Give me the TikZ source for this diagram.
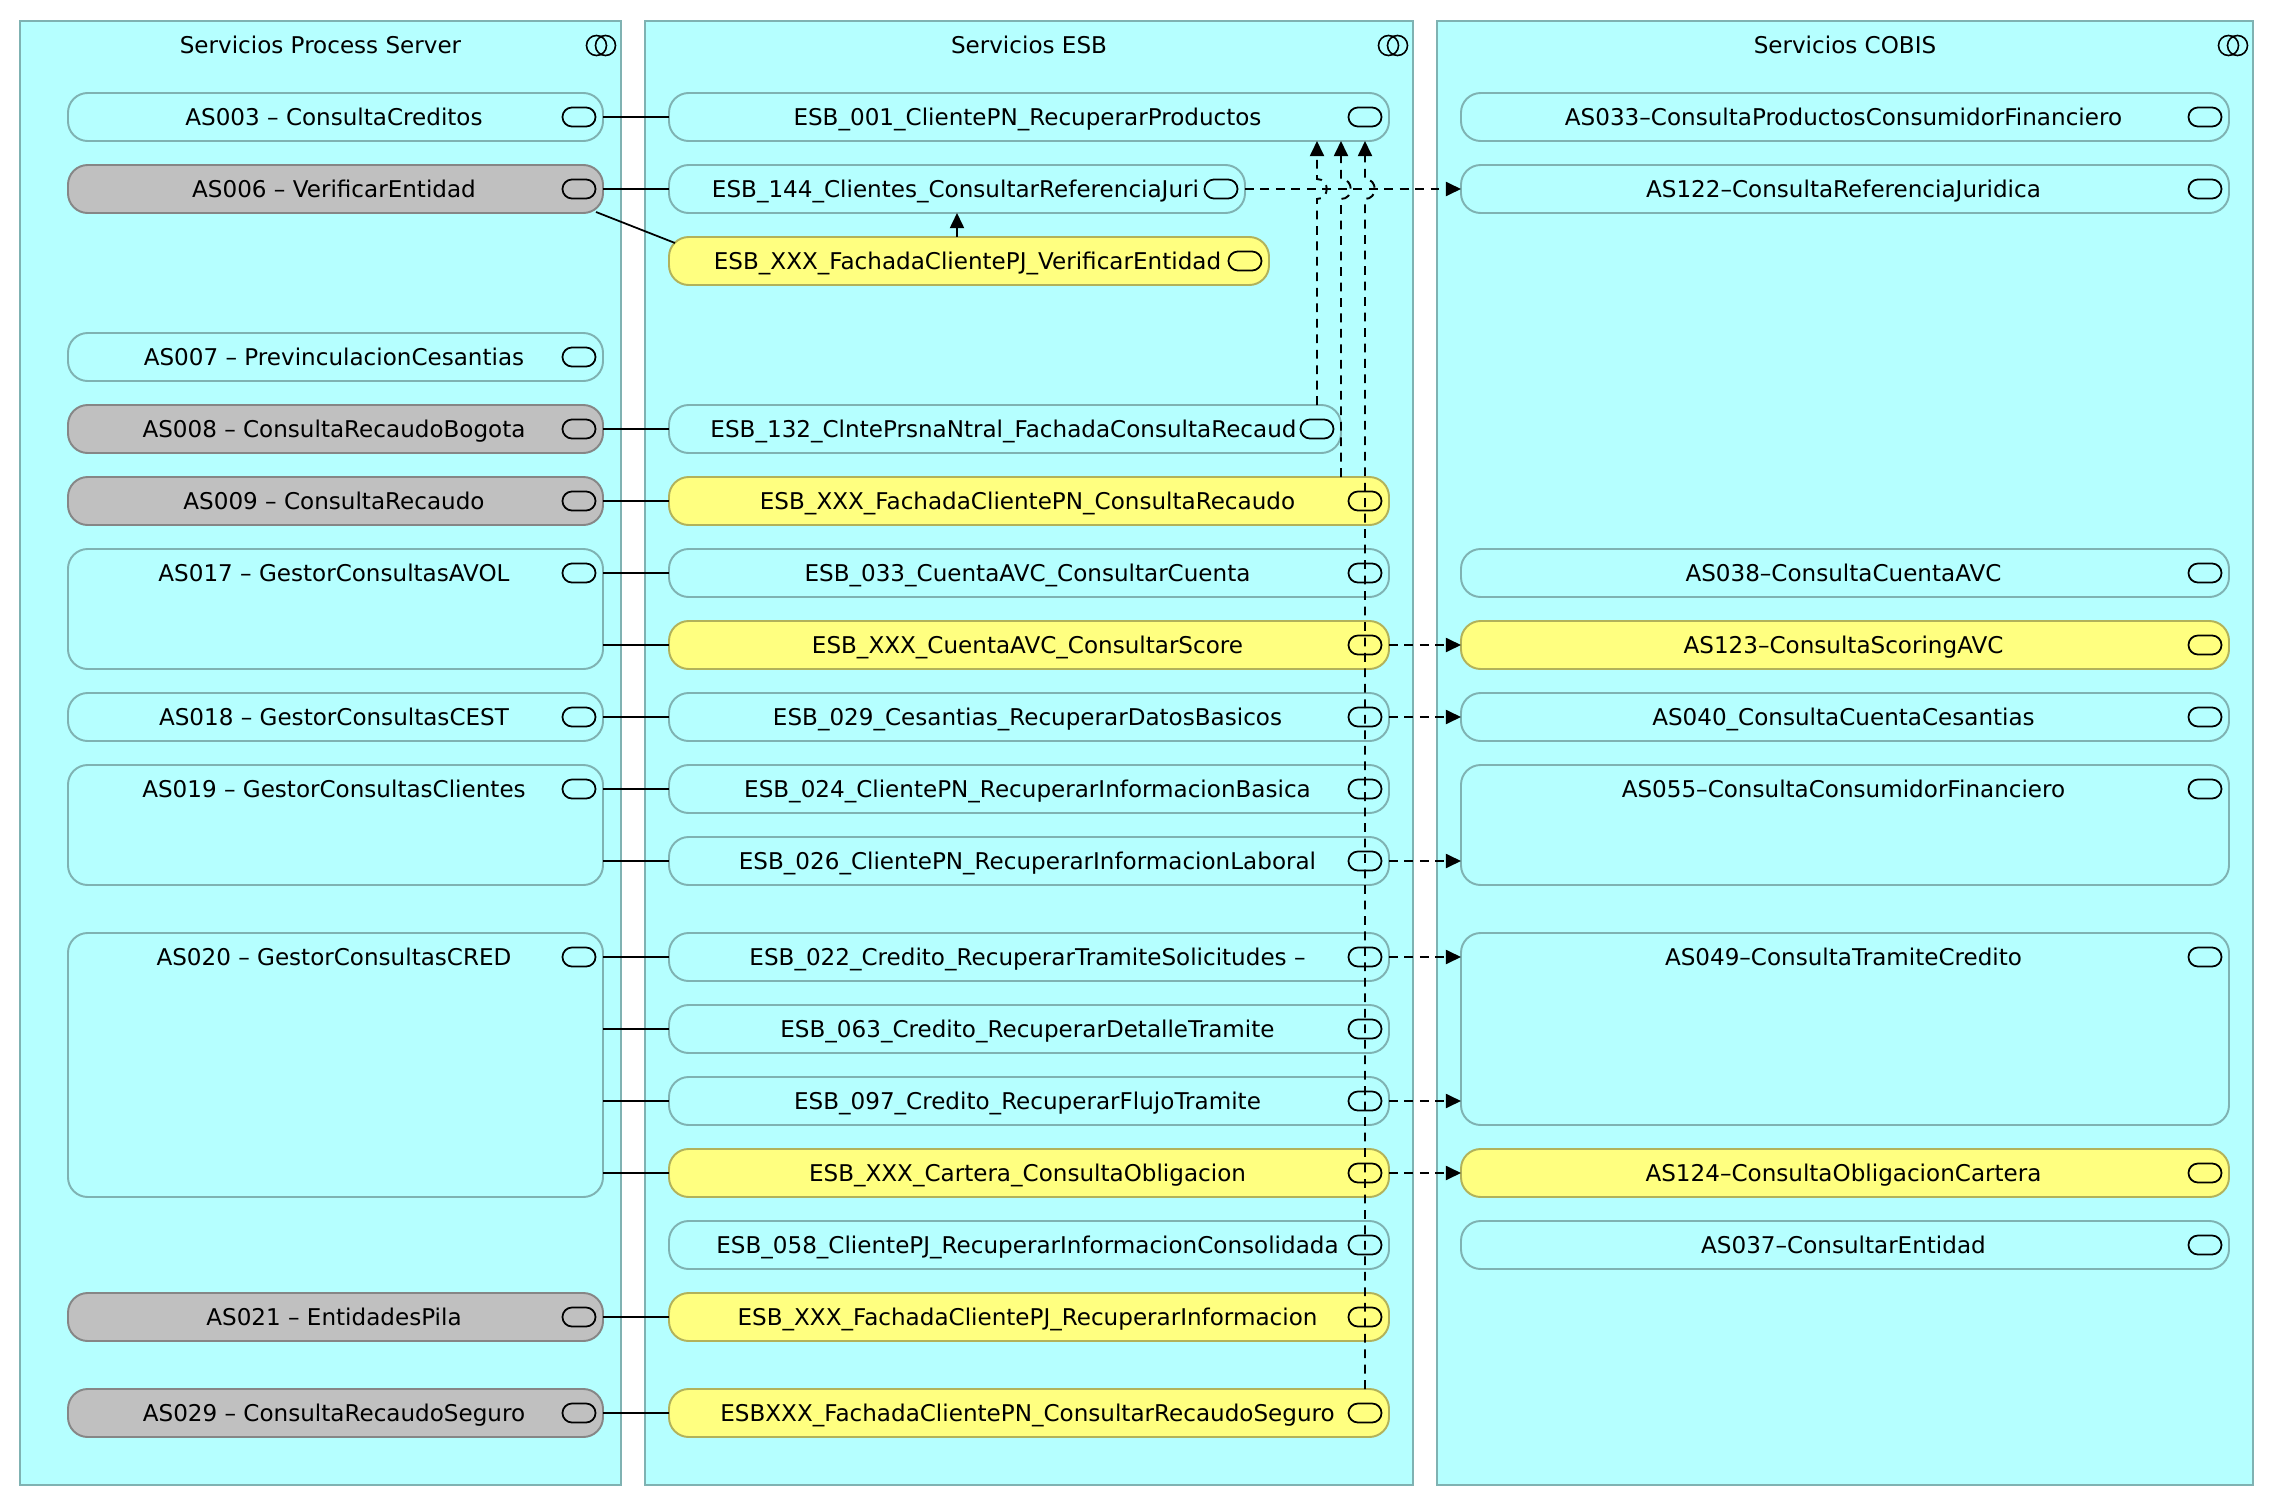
\documentclass[tikz,border=0pt]{standalone}
\usepackage{fontspec}
\setmainfont{DejaVu Sans}
\usetikzlibrary{arrows.meta,calc}
\definecolor{svccyan}{RGB}{181,255,255}
\definecolor{svcyellow}{RGB}{255,255,128}
\definecolor{svcgrey}{RGB}{192,192,192}
\tikzset{
  grp/.style={rectangle,draw=svccyan!70!black,fill=svccyan,line width=0.6pt,inner sep=0pt,outer sep=0pt},
  svc/.style={rectangle,rounded corners=5.6pt,draw=svccyan!70!black,fill=svccyan,line width=0.55pt,inner sep=0pt,outer sep=0pt},
  svcy/.style={svc,draw=svcyellow!70!black,fill=svcyellow},
  svcg/.style={svc,draw=svcgrey!70!black,fill=svcgrey},
  svctxt/.style={font=\fontsize{6.56}{7.5}\selectfont,inner sep=0pt,text height=4.8pt,text depth=0.8pt},
  svcicon/.style={rectangle,rounded corners=2.7pt,draw=black,line width=0.5pt,minimum width=0.33cm,minimum height=0.19cm,inner sep=0pt},
  grpicon/.style={circle,draw=black,line width=0.45pt,minimum size=0.2cm,inner sep=0pt},
  lnk/.style={line width=0.5pt,black},
  dsh/.style={line width=0.55pt,black,dash pattern=on 2.5pt off 1.9pt,-{Triangle[length=4.3pt,width=4pt]}},
}
% service box: name, left, right, y of first row, height, style, text
\newcommand{\svcbox}[7]{
  \node[#6,minimum width={(#3-#2)*0.01cm},minimum height={#5*0.01cm}] (#1) at ({(#2+#3)/2},{#4-24+#5/2}) {};
  \node[svctxt] (#1t) at ({(#2+#3)/2-1.5},{#4+1.5}) {#7};
  \node[svcicon] (#1i) at (#3-24,#4) {};
}
\begin{document}
\begin{tikzpicture}[x=0.01cm,y=-0.01cm]
  \useasboundingbox (0,0) rectangle (2274,1506);
  % columns
  \foreach \g/\xl/\xr/\txt in {gps/20/621/Servicios Process Server,gesb/645/1413/Servicios ESB,gcob/1437/2253/Servicios COBIS}{
    \node[grp,minimum width={(\xr-\xl)*0.01cm},minimum height=14.64cm] (\g) at ({(\xl+\xr)/2},753) {};
    \node[svctxt] (\g t) at ({(\xl+\xr)/2},46) {\txt};
    \node[grpicon] (\g a) at (\xr-24.5,45.5) {};
    \node[grpicon] (\g b) at (\xr-15.5,45.5) {};
  }
  % Process Server
  \foreach \nm/\yc/\hh/\sty/\txt in {
    as003/117/48/svc/AS003 -- ConsultaCreditos,
    as006/189/48/svcg/AS006 -- VerificarEntidad,
    as007/357/48/svc/AS007 -- PrevinculacionCesantias,
    as008/429/48/svcg/AS008 -- ConsultaRecaudoBogota,
    as009/501/48/svcg/AS009 -- ConsultaRecaudo,
    as017/573/120/svc/AS017 -- GestorConsultasAVOL,
    as018/717/48/svc/AS018 -- GestorConsultasCEST,
    as019/789/120/svc/AS019 -- GestorConsultasClientes,
    as020/957/264/svc/AS020 -- GestorConsultasCRED,
    as021/1317/48/svcg/AS021 -- EntidadesPila,
    as029/1413/48/svcg/AS029 -- ConsultaRecaudoSeguro}{
    \svcbox{\nm}{68}{603}{\yc}{\hh}{\sty}{\txt}
  }
  % ESB
  \foreach \nm/\xr/\yc/\sty/\txt in {
    esb001/1389/117/svc/ESB\_001\_ClientePN\_RecuperarProductos,
    esb144/1245/189/svc/ESB\_144\_Clientes\_ConsultarReferenciaJuri,
    esbver/1269/261/svcy/ESB\_XXX\_FachadaClientePJ\_VerificarEntidad,
    esb132/1341/429/svc/ESB\_132\_ClntePrsnaNtral\_FachadaConsultaRecaud,
    esbrec/1389/501/svcy/ESB\_XXX\_FachadaClientePN\_ConsultaRecaudo,
    esb033/1389/573/svc/ESB\_033\_CuentaAVC\_ConsultarCuenta,
    esbsco/1389/645/svcy/ESB\_XXX\_CuentaAVC\_ConsultarScore,
    esb029/1389/717/svc/ESB\_029\_Cesantias\_RecuperarDatosBasicos,
    esb024/1389/789/svc/ESB\_024\_ClientePN\_RecuperarInformacionBasica,
    esb026/1389/861/svc/ESB\_026\_ClientePN\_RecuperarInformacionLaboral,
    esb022/1389/957/svc/ESB\_022\_Credito\_RecuperarTramiteSolicitudes --,
    esb063/1389/1029/svc/ESB\_063\_Credito\_RecuperarDetalleTramite,
    esb097/1389/1101/svc/ESB\_097\_Credito\_RecuperarFlujoTramite,
    esbcar/1389/1173/svcy/ESB\_XXX\_Cartera\_ConsultaObligacion,
    esb058/1389/1245/svc/ESB\_058\_ClientePJ\_RecuperarInformacionConsolidada,
    esbinf/1389/1317/svcy/ESB\_XXX\_FachadaClientePJ\_RecuperarInformacion,
    esbseg/1389/1413/svcy/ESBXXX\_FachadaClientePN\_ConsultarRecaudoSeguro}{
    \svcbox{\nm}{669}{\xr}{\yc}{48}{\sty}{\txt}
  }
  % COBIS
  \foreach \nm/\yc/\hh/\sty/\txt in {
    as033/117/48/svc/AS033--ConsultaProductosConsumidorFinanciero,
    as122/189/48/svc/AS122--ConsultaReferenciaJuridica,
    as038/573/48/svc/AS038--ConsultaCuentaAVC,
    as123/645/48/svcy/AS123--ConsultaScoringAVC,
    as040/717/48/svc/AS040\_ConsultaCuentaCesantias,
    as055/789/120/svc/AS055--ConsultaConsumidorFinanciero,
    as049/957/192/svc/AS049--ConsultaTramiteCredito,
    as124/1173/48/svcy/AS124--ConsultaObligacionCartera,
    as037/1245/48/svc/AS037--ConsultarEntidad}{
    \svcbox{\nm}{1461}{2229}{\yc}{\hh}{\sty}{\txt}
  }
  % solid links
  \foreach \a/\b in {as003/esb001,as006/esb144,as008/esb132,as009/esbrec,as017/esb033,as018/esb029,as019/esb024,as020/esb022,as021/esbinf,as029/esbseg}{
    \draw[lnk] (\a.east |- \b.west) -- (\b.west);
  }
  \foreach \a/\b in {as017/esbsco,as019/esb026,as020/esb063,as020/esb097,as020/esbcar}{
    \draw[lnk] (\a.east |- \b.west) -- (\b.west);
  }
  \draw[lnk] ($(as006.south east)+(-7,-1)$) -- ($(esbver.north west)+(6,6)$);
  \draw[lnk,-{Triangle[length=4.3pt,width=4pt]}] (esbver.north -| esb144.south) -- (esb144.south);
  % dashed links to COBIS
  \foreach \a/\b in {esbsco/as123,esb029/as040,esbcar/as124,esb144/as122}{
    \draw[dsh] (\a.east) -- (\b.west);
  }
  \draw[dsh] (esb026.east) -- (as055.west |- esb026.east);
  \draw[dsh] (esb022.east) -- (as049.west |- esb022.east);
  \draw[dsh] (esb097.east) -- (as049.west |- esb097.east);
  % dashed links up to ESB_001, with a jump over the ESB_144 link
  \foreach \a/\x in {esb132/1317,esbrec/1341,esbseg/1365}{
    \coordinate (jmp) at (\x,189);
    \draw[dsh] (\a.north -| jmp) -- ($(jmp)+(0,10)$) .. controls ($(jmp)+(13,10)$) and ($(jmp)+(13,-10)$) .. ($(jmp)+(0,-10)$) -- (esb001.south -| jmp);
  }
\end{tikzpicture}
\end{document}
